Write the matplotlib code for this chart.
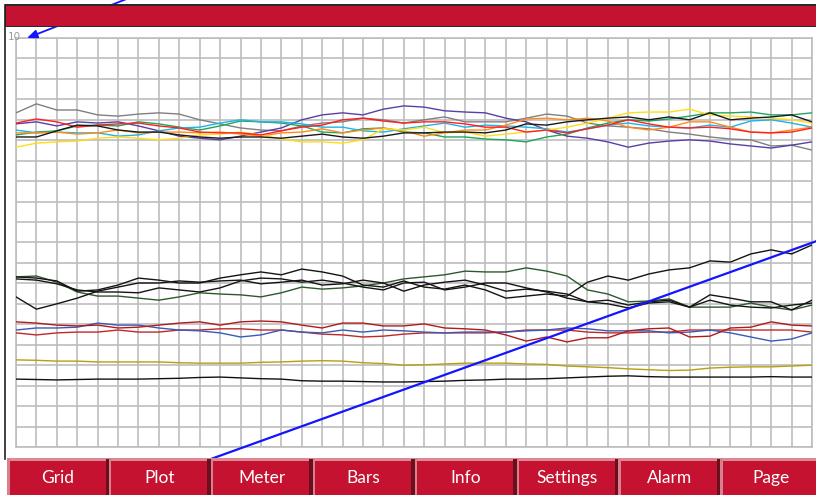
import matplotlib
matplotlib.use("Agg")
import matplotlib.pyplot as plt
from matplotlib.patches import Rectangle
from matplotlib.lines import Line2D

# ---------------- data ----------------
x_index = list(range(40))

gray_top = [8.17, 8.39, 8.24, 8.24, 8.12, 8.09, 8.14, 8.17, 8.14, 8.00, 7.90, 7.80, 7.75, 7.73, 7.85, 7.92, 7.95, 8.04, 8.00, 7.92,
            8.00, 8.07, 7.95, 7.95, 7.95, 8.04, 8.14, 8.09, 7.92, 7.85, 7.82, 7.78, 7.70, 7.65, 7.58, 7.53, 7.51, 7.36, 7.38, 7.26]
purple_top = [7.90, 7.95, 7.85, 7.95, 7.92, 7.95, 7.85, 7.73, 7.60, 7.55, 7.51, 7.60, 7.70, 7.80, 8.00, 8.12, 8.17, 8.12, 8.26, 8.34,
              8.31, 8.22, 8.19, 8.17, 8.04, 7.95, 7.75, 7.60, 7.55, 7.46, 7.33, 7.43, 7.48, 7.51, 7.48, 7.41, 7.36, 7.31, 7.38, 7.46]
red_top = [7.92, 8.02, 7.95, 7.82, 7.87, 7.90, 7.92, 7.85, 7.80, 7.70, 7.68, 7.68, 7.63, 7.73, 7.82, 7.87, 8.00, 8.04, 7.97, 7.92,
           7.95, 7.95, 7.90, 7.82, 7.82, 7.70, 7.75, 7.68, 7.78, 7.87, 8.00, 7.90, 7.82, 7.80, 7.82, 7.78, 7.70, 7.68, 7.70, 7.80]
green_top = [7.63, 7.70, 7.73, 7.85, 7.87, 7.85, 7.95, 7.90, 7.82, 7.75, 7.85, 7.97, 7.95, 7.92, 7.85, 7.70, 7.68, 7.78, 7.80, 7.70,
             7.68, 7.58, 7.58, 7.53, 7.51, 7.46, 7.58, 7.65, 7.80, 7.92, 8.00, 7.97, 8.02, 8.09, 8.17, 8.17, 8.19, 8.12, 8.12, 8.17]
cyan_top = [7.75, 7.68, 7.70, 7.68, 7.68, 7.60, 7.63, 7.73, 7.80, 7.82, 7.92, 8.00, 7.95, 7.95, 7.90, 7.82, 7.82, 7.73, 7.70, 7.78,
            7.85, 7.92, 7.82, 7.87, 7.85, 7.82, 7.78, 7.70, 7.78, 7.87, 7.92, 7.85, 7.82, 7.80, 7.87, 7.82, 7.97, 8.00, 7.92, 7.82]
orange_top = [7.68, 7.68, 7.70, 7.65, 7.68, 7.75, 7.68, 7.70, 7.70, 7.68, 7.70, 7.65, 7.60, 7.68, 7.70, 7.78, 7.68, 7.75, 7.80, 7.73,
              7.60, 7.68, 7.75, 7.75, 7.87, 8.02, 8.04, 8.00, 8.04, 7.97, 7.82, 7.75, 7.82, 7.95, 7.95, 7.82, 7.70, 7.68, 7.75, 7.82]
yellow_top = [7.33, 7.43, 7.46, 7.48, 7.55, 7.58, 7.55, 7.51, 7.55, 7.63, 7.65, 7.70, 7.63, 7.53, 7.46, 7.46, 7.43, 7.51, 7.78, 7.75,
              7.82, 7.68, 7.70, 7.60, 7.65, 7.70, 7.75, 7.82, 7.92, 8.04, 8.17, 8.19, 8.19, 8.26, 8.12, 8.09, 8.07, 8.04, 8.00, 7.92]
black_top = [7.58, 7.58, 7.73, 7.87, 7.85, 7.75, 7.70, 7.70, 7.63, 7.58, 7.55, 7.58, 7.58, 7.55, 7.60, 7.65, 7.58, 7.55, 7.60, 7.68,
             7.68, 7.70, 7.70, 7.68, 7.75, 7.90, 7.87, 7.95, 8.00, 8.04, 8.07, 8.00, 8.07, 8.00, 8.17, 8.00, 8.04, 8.07, 8.12, 7.95]

black_mid_1 = [4.16, 4.13, 4.06, 3.81, 3.84, 3.96, 4.13, 4.08, 4.01, 4.01, 4.13, 4.21, 4.28, 4.21, 4.35, 4.28, 4.18, 3.96, 3.91, 4.06,
               3.91, 3.86, 3.96, 3.84, 3.64, 3.69, 3.74, 3.69, 4.03, 4.18, 4.08, 4.23, 4.33, 4.38, 4.55, 4.52, 4.72, 4.82, 4.72, 4.94]
black_mid_2 = [4.11, 4.08, 3.99, 3.84, 3.79, 3.79, 3.77, 3.89, 3.84, 3.79, 3.89, 4.06, 4.13, 4.11, 4.03, 4.08, 4.01, 3.91, 3.84, 4.01,
               4.03, 3.84, 3.91, 4.01, 4.01, 3.89, 3.79, 3.64, 3.55, 3.59, 3.47, 3.55, 3.59, 3.42, 3.72, 3.64, 3.55, 3.55, 3.35, 3.59]
black_mid_3 = [3.67, 3.37, 3.50, 3.64, 3.81, 3.91, 4.01, 4.01, 4.06, 4.03, 4.06, 4.08, 3.99, 4.03, 4.08, 3.96, 3.99, 4.08, 4.01, 3.81,
               3.96, 4.03, 4.08, 3.96, 3.81, 3.86, 3.81, 3.74, 3.55, 3.50, 3.40, 3.52, 3.55, 3.42, 3.59, 3.47, 3.42, 3.40, 3.47, 3.52]
green_mid = [4.16, 4.18, 4.03, 3.79, 3.69, 3.69, 3.64, 3.59, 3.67, 3.77, 3.74, 3.72, 3.67, 3.77, 3.91, 3.86, 3.89, 3.94, 4.01, 4.11,
             4.16, 4.21, 4.30, 4.28, 4.28, 4.38, 4.30, 4.18, 3.84, 3.74, 3.55, 3.57, 3.62, 3.42, 3.42, 3.42, 3.52, 3.42, 3.35, 3.47]

red_low_a = [3.06, 3.03, 2.98, 2.96, 2.98, 2.91, 2.93, 2.98, 3.03, 3.06, 2.98, 3.06, 3.08, 3.06, 2.98, 2.91, 3.03, 3.03, 2.96, 2.96,
             3.01, 2.91, 2.89, 2.86, 2.74, 2.59, 2.69, 2.57, 2.67, 2.67, 2.84, 2.89, 2.91, 2.69, 2.71, 2.91, 2.93, 3.06, 2.98, 2.96]
red_low_b = [2.79, 2.74, 2.79, 2.81, 2.81, 2.86, 2.81, 2.81, 2.86, 2.86, 2.89, 2.89, 2.86, 2.86, 2.81, 2.76, 2.74, 2.69, 2.71, 2.76,
             2.79, 2.79, 2.79, 2.79, 2.81, 2.86, 2.86, 2.86, 2.81, 2.79, 2.79, 2.81, 2.81, 2.86, 2.86, 2.86, 2.86, 2.86, 2.86, 2.81]
blue_low = [2.86, 2.91, 2.91, 2.93, 3.03, 2.98, 2.98, 2.91, 2.86, 2.84, 2.79, 2.69, 2.74, 2.86, 2.81, 2.79, 2.86, 2.81, 2.86, 2.84,
            2.81, 2.79, 2.81, 2.81, 2.81, 2.84, 2.86, 2.91, 2.89, 2.84, 2.84, 2.84, 2.79, 2.81, 2.86, 2.79, 2.69, 2.59, 2.64, 2.79]
olive_low = [2.13, 2.12, 2.10, 2.10, 2.08, 2.08, 2.08, 2.08, 2.06, 2.05, 2.05, 2.05, 2.07, 2.08, 2.10, 2.11, 2.10, 2.06, 2.04, 2.00,
             2.01, 2.03, 2.05, 2.05, 2.05, 2.03, 2.02, 1.98, 1.96, 1.94, 1.91, 1.89, 1.87, 1.88, 1.93, 1.95, 1.96, 1.96, 1.98, 2.00]
black_low = [1.66, 1.65, 1.64, 1.65, 1.66, 1.66, 1.66, 1.67, 1.68, 1.70, 1.71, 1.69, 1.67, 1.66, 1.62, 1.61, 1.61, 1.60, 1.59, 1.59,
             1.60, 1.61, 1.63, 1.64, 1.66, 1.66, 1.67, 1.69, 1.71, 1.73, 1.74, 1.72, 1.71, 1.71, 1.71, 1.71, 1.71, 1.72, 1.71, 1.71]

ramp_x = [9.4, 39.25]
ramp_y = [-0.32, 5.04]

y_max_label = "10"
buttons = ["Grid", "Plot", "Meter", "Bars", "Info", "Settings", "Alarm", "Page"]

series = [
    (gray_top, "#808080"), (purple_top, "#5a3fa6"), (green_top, "#1fa65a"), (cyan_top, "#1fb4e6"),
    (orange_top, "#ff8c1a"), (yellow_top, "#ffdd1a"), (red_top, "#ff1f1f"), (black_top, "#1a1a1a"),
    (green_mid, "#2d5a2d"), (black_mid_2, "#141414"), (black_mid_3, "#141414"), (black_mid_1, "#141414"),
    (red_low_b, "#c02828"), (blue_low, "#3a5ab8"), (red_low_a, "#b01c1c"),
    (olive_low, "#b5a00f"), (black_low, "#111111"),
]

# ---------------- figure ----------------
W, H = 816, 495
fig = plt.figure(figsize=(W / 100, H / 100), dpi=100)
fig.patch.set_facecolor("white")

def fx(px):
    return px / W

def fy(py):
    return 1 - py / H

ax = fig.add_axes([fx(16), fy(447), fx(812) - fx(16), fy(38) - fy(447)])
ax.set_xlim(0, 39)
ax.set_ylim(0, 10)
ax.set_xticks(range(40))
ax.set_yticks([k * 0.5 for k in range(21)])
ax.tick_params(length=0, labelbottom=False, labelleft=False)
ax.grid(True, color="#bdbdbd", linewidth=1.2)
ax.set_axisbelow(True)
for s in ax.spines.values():
    s.set_color("#bdbdbd")
    s.set_linewidth(1.2)

for vals, col in series:
    ax.plot(x_index, vals, color=col, linewidth=1.0, zorder=3)

ax.plot(ramp_x, ramp_y, color="#1414ff", linewidth=1.6, zorder=4, clip_on=False)

# arrow pointing at the max label
ax.annotate("", xy=(0.54, 10.0), xytext=(5.4, 10.95), xycoords="data", textcoords="data",
            annotation_clip=False,
            arrowprops=dict(arrowstyle="-|>,head_length=0.6,head_width=0.25", color="#1414ff", lw=1.3,
                            shrinkA=0, shrinkB=0))

fig.text(fx(7.5), fy(37.5), y_max_label, color="#9a9a9a", fontsize=7.5, ha="left", va="center")

# left border line
fig.add_artist(Line2D([fx(5), fx(5)], [fy(5), fy(459)], transform=fig.transFigure, color="#202020",
                      linewidth=1.2, zorder=6))

# header bar
fig.add_artist(Rectangle((fx(5), fy(27)), fx(816) - fx(5), fy(4.5) - fy(27), transform=fig.transFigure,
                         facecolor="#2a2a2a", edgecolor="none", zorder=5))
fig.add_artist(Rectangle((fx(5.8), fy(25.6)), fx(816) - fx(5.8), fy(6) - fy(25.6), transform=fig.transFigure,
                         facecolor="#c41230", edgecolor="none", zorder=5.5))

# button bar
fig.add_artist(Rectangle((fx(0), fy(495)), 1, fy(458) - fy(495), transform=fig.transFigure,
                         facecolor="white", edgecolor="none", zorder=5))
bw = 101.9
for i, name in enumerate(buttons):
    x0 = 7 + bw * i
    fig.add_artist(Rectangle((fx(x0), fy(495)), fx(bw), fy(458) - fy(495), transform=fig.transFigure,
                             facecolor="#c41230", edgecolor="none", zorder=6))
    fig.add_artist(Rectangle((fx(x0), fy(461)), fx(bw), fy(458) - fy(461), transform=fig.transFigure,
                             facecolor="#dc8996", edgecolor="none", zorder=6.2))
    fig.add_artist(Rectangle((fx(x0), fy(495)), fx(2.6), fy(458) - fy(495), transform=fig.transFigure,
                             facecolor="#d7808e", edgecolor="none", zorder=6.3))
    fig.add_artist(Rectangle((fx(x0 + bw - 3.4), fy(495)), fx(3.4), fy(459) - fy(495), transform=fig.transFigure,
                             facecolor="#6a0f1e", edgecolor="none", zorder=6.4))
    fig.text(fx(x0 + bw / 2), fy(478), name, color="white", fontsize=12.5, family="Lato",
             ha="center", va="center", zorder=7)

fig.savefig("out.png", dpi=100, facecolor="white")
